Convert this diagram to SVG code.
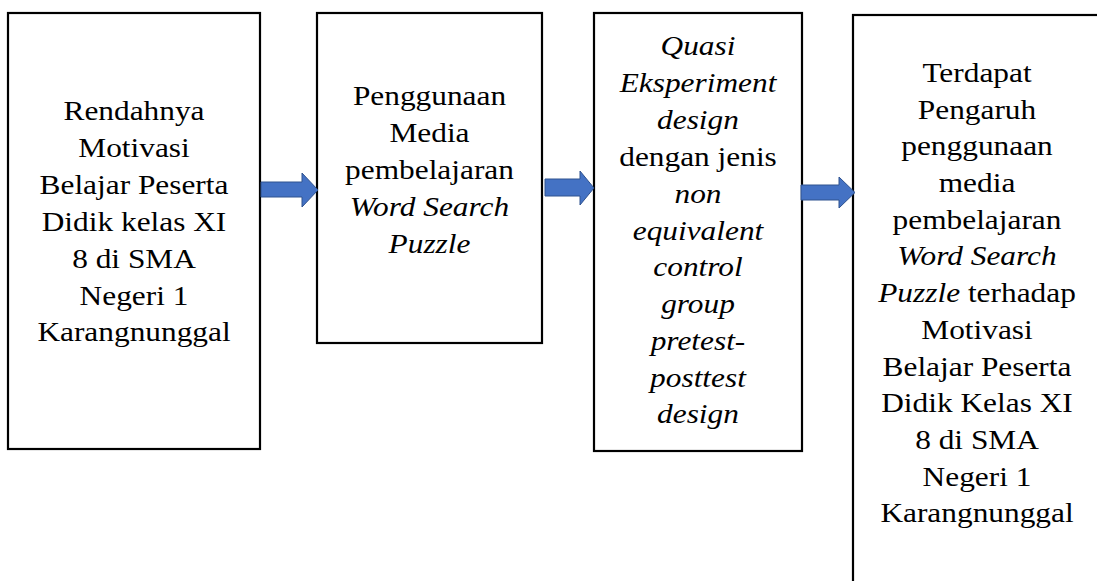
<svg xmlns="http://www.w3.org/2000/svg" width="1097" height="581" viewBox="0 0 1097 581">
<style>
.box{fill:#fff;stroke:#000;stroke-width:2.2}
.t{font-family:"Liberation Serif","Times New Roman",serif;font-size:28px;fill:#000;text-anchor:middle}
.i{font-style:italic}
.arr{fill:#4472C4;stroke:#2F528F;stroke-width:1}
</style>
<rect width="1097" height="581" fill="#fff"/>
<g id="node1">
<rect class="box" x="8" y="13" width="252" height="436"/>
<g transform="translate(134,0) scale(1.12,1)">
<text class="t" x="0" y="120">Rendahnya</text>
<text class="t" x="0" y="157">Motivasi</text>
<text class="t" x="0" y="194">Belajar Peserta</text>
<text class="t" x="0" y="231">Didik kelas XI</text>
<text class="t" x="0" y="268">8 di SMA</text>
<text class="t" x="0" y="305">Negeri 1</text>
<text class="t" x="0" y="341">Karangnunggal</text>
</g>
</g>
<g id="node2">
<rect class="box" x="317" y="13" width="225" height="330"/>
<g transform="translate(429.5,0) scale(1.12,1)">
<text class="t" x="0" y="105">Penggunaan</text>
<text class="t" x="0" y="142">Media</text>
<text class="t" x="0" y="179">pembelajaran</text>
<text class="t i" x="0" y="216">Word Search</text>
<text class="t i" x="0" y="253">Puzzle</text>
</g>
</g>
<g id="node3">
<rect class="box" x="594" y="13" width="208" height="438"/>
<g transform="translate(698,0) scale(1.12,1)">
<text class="t i" x="0" y="55">Quasi</text>
<text class="t i" x="0" y="92">Eksperiment</text>
<text class="t i" x="0" y="129">design</text>
<text class="t" x="0" y="166">dengan jenis</text>
<text class="t i" x="0" y="203">non</text>
<text class="t i" x="0" y="240">equivalent</text>
<text class="t i" x="0" y="276">control</text>
<text class="t i" x="0" y="313">group</text>
<text class="t i" x="0" y="350">pretest-</text>
<text class="t i" x="0" y="387">posttest</text>
<text class="t i" x="0" y="423">design</text>
</g>
</g>
<g id="node4">
<rect class="box" x="853" y="15" width="250" height="580"/>
<g transform="translate(977,0) scale(1.12,1)">
<text class="t" x="0" y="82">Terdapat</text>
<text class="t" x="0" y="119">Pengaruh</text>
<text class="t" x="0" y="155">penggunaan</text>
<text class="t" x="0" y="192">media</text>
<text class="t" x="0" y="229">pembelajaran</text>
<text class="t i" x="0" y="265">Word Search</text>
<text class="t" x="0" y="302"><tspan class="i">Puzzle</tspan> terhadap</text>
<text class="t" x="0" y="339">Motivasi</text>
<text class="t" x="0" y="376">Belajar Peserta</text>
<text class="t" x="0" y="412">Didik Kelas XI</text>
<text class="t" x="0" y="449">8 di SMA</text>
<text class="t" x="0" y="486">Negeri 1</text>
<text class="t" x="0" y="522">Karangnunggal</text>
</g>
</g>
<g id="connectors">
<polygon class="arr" points="261,182 302,182 302,173 318,190 302,207 302,197 261,197"/>
<polygon class="arr" points="545,179 580,179 580,171 594,188 580,205 580,196 545,196"/>
<polygon class="arr" points="801,185 839,185 839,177 855,192.5 839,208 839,200 801,200"/>
</g>
</svg>
